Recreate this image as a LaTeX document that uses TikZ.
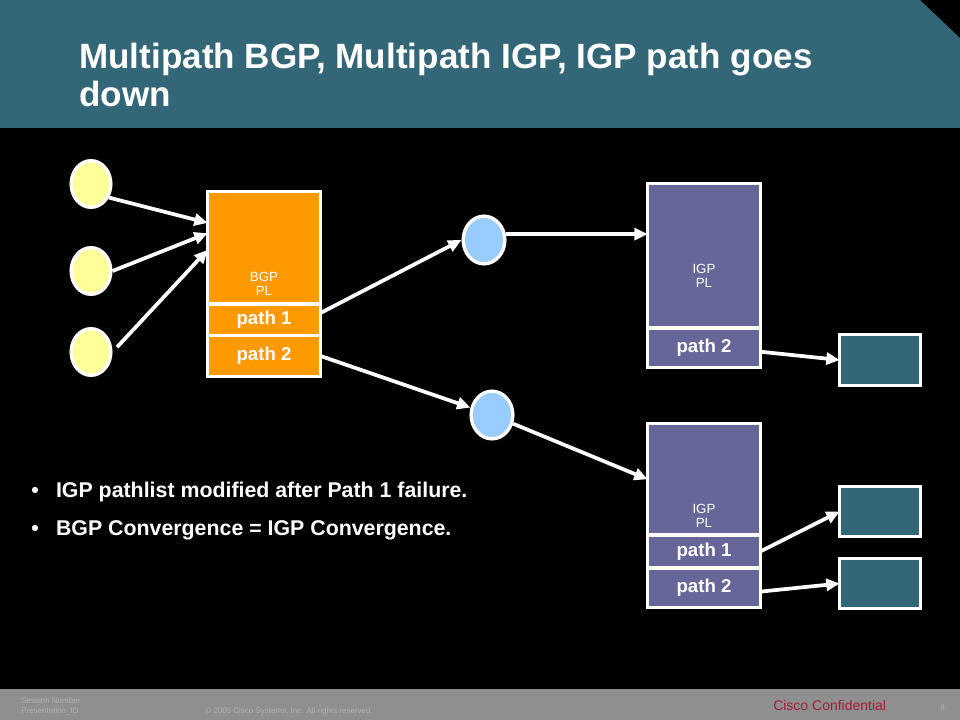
\documentclass[tikz,border=0pt]{standalone}
\usepackage{fontspec}
\setmainfont{Liberation Sans}
\usetikzlibrary{positioning,shapes.geometric,arrows.meta}

\definecolor{headteal}{RGB}{51,102,119}
\definecolor{bgporange}{RGB}{255,153,0}
\definecolor{igppurple}{RGB}{102,102,153}
\definecolor{srcyellow}{RGB}{255,255,153}
\definecolor{hopblue}{RGB}{153,204,255}
\definecolor{footgray}{RGB}{143,143,143}
\definecolor{foottext}{RGB}{178,178,178}
\definecolor{confred}{RGB}{160,30,60}

\tikzstyle{plate} = [rectangle, draw=white, line width=2.5pt, outer sep=0pt, inner sep=0pt, text=white]
\tikzstyle{bgpsec} = [plate, fill=bgporange, minimum width=84.5pt]
\tikzstyle{igpsec} = [plate, fill=igppurple, minimum width=84.5pt]
\tikzstyle{pathtext} = [font=\fontsize{14pt}{16pt}\selectfont\bfseries]
\tikzstyle{pltext} = [text=white, align=center, inner sep=0pt, font=\fontsize{10pt}{10.5pt}\selectfont]
\tikzstyle{outbox} = [plate, fill=headteal, minimum width=60.5pt]
\tikzstyle{src} = [ellipse, draw=white, line width=2.5pt, fill=srcyellow, minimum width=29.8pt, minimum height=35pt, inner sep=0pt]
\tikzstyle{hop} = [ellipse, draw=white, line width=2.5pt, fill=hopblue, minimum width=31.3pt, minimum height=35.8pt, inner sep=0pt]
\tikzstyle{arrow} = [line width=2.8pt, draw=white, -{Triangle[length=10pt,width=9pt]}]
\tikzstyle{foot} = [anchor=base west, inner sep=0pt, text=foottext, font=\fontsize{6pt}{7.5pt}\selectfont]

\begin{document}
\begin{tikzpicture}[x=0.75pt, y=-0.75pt]
  % slide background
  \fill[black] (0,0) rectangle (960,720);
  \fill[headteal] (0,0) -- (920,0) -- (960,38) -- (960,128) -- (0,128) -- cycle;
  \fill[footgray] (0,689) rectangle (960,720);

  \node (title) [anchor=base west, align=left, text=white, inner sep=0pt, font=\fontsize{26.3pt}{28.5pt}\selectfont\bfseries] at (79,107) {Multipath BGP, Multipath IGP, IGP path goes\\down};

  % sources
  \node (src1) [src] at (91,184) {};
  \node (src2) [src] at (91,271) {};
  \node (src3) [src] at (91,352) {};

  % BGP pathlist
  \node (bgp) [bgpsec, minimum height=84.2pt] at (264,247.9) {};
  \node (bgpPath1) [bgpsec, pathtext, minimum height=23.6pt, below=0pt of bgp] {path 1};
  \node (bgpPath2) [bgpsec, pathtext, minimum height=30.6pt, below=0pt of bgpPath1] {path 2};
  \node (bgpText) [pltext, above=6pt of bgp.south] {BGP\\PL};

  % next hops
  \node (hop1) [hop] at (484,240) {};
  \node (hop2) [hop] at (492,415) {};

  % IGP pathlists
  \node (igpTop) [igpsec, minimum height=108.2pt] at (704,255.9) {};
  \node (igpTopPath2) [igpsec, pathtext, minimum height=29.5pt, below=0pt of igpTop] {path 2};
  \node (igpTopText) [pltext, above=30pt of igpTop.south] {IGP\\PL};

  \node (igpBot) [igpsec, minimum height=83.5pt] at (704,479.3) {};
  \node (igpBotPath1) [igpsec, pathtext, minimum height=24.75pt, below=0pt of igpBot] {path 1};
  \node (igpBotPath2) [igpsec, pathtext, minimum height=29.5pt, below=0pt of igpBotPath1] {path 2};
  \node (igpBotText) [pltext, above=5.25pt of igpBot.south] {IGP\\PL};

  % outgoing
  \node (out1) [outbox, minimum height=38pt] at (880,360) {};
  \node (out2) [outbox, minimum height=37.2pt] at (880,511.5) {};
  \node (out3) [outbox, minimum height=37.2pt] at (880,583.5) {};

  \draw [arrow] (src1.-37) -- ([yshift=18.75pt]bgp.west);
  \draw [arrow] (src2.east) -- ([yshift=11pt]bgp.west);
  \draw [arrow, shorten <=5pt] (src3.east) -- ([yshift=-1.5pt]bgp.west);
  \draw [arrow] ([yshift=5pt]bgpPath1.east) -- (hop1.west);
  \draw [arrow] (bgpPath2.east) -- (hop2);
  \draw [arrow] (hop1.15) -- (hop1.15 -| igpTop.west);
  \draw [arrow] (hop2) -- (igpBot.west);
  \draw [arrow] ([yshift=-3pt]igpTopPath2.east) -- (out1.west);
  \draw [arrow] (igpBotPath1.east) -- (out2.west);
  \draw [arrow] ([yshift=-3pt]igpBotPath2.east) -- (out3.west);

  % notes
  \node (notes) [anchor=base west, text=white, inner sep=0pt, font=\fontsize{16pt}{28.5pt}\selectfont\bfseries] at (31,497) {\begin{tabular}[t]{@{}l@{\hspace{13pt}}l@{}}
    \textbullet & IGP pathlist modified after Path 1 failure.\\
    \textbullet & BGP Convergence = IGP Convergence.
  \end{tabular}};

  % footer
  \node (session) [foot, align=left] at (21,713) {Session Number\\Presentation\_ID};
  \node (copyright) [foot] at (205,713) {\textcopyright{} 2005 Cisco Systems, Inc. All rights reserved.};
  \node (confidential) [foot, text=confred, font=\fontsize{10.5pt}{12pt}\selectfont] at (773,710) {Cisco Confidential};
  \node (pageno) [foot] at (940,710) {8};
\end{tikzpicture}
\end{document}
